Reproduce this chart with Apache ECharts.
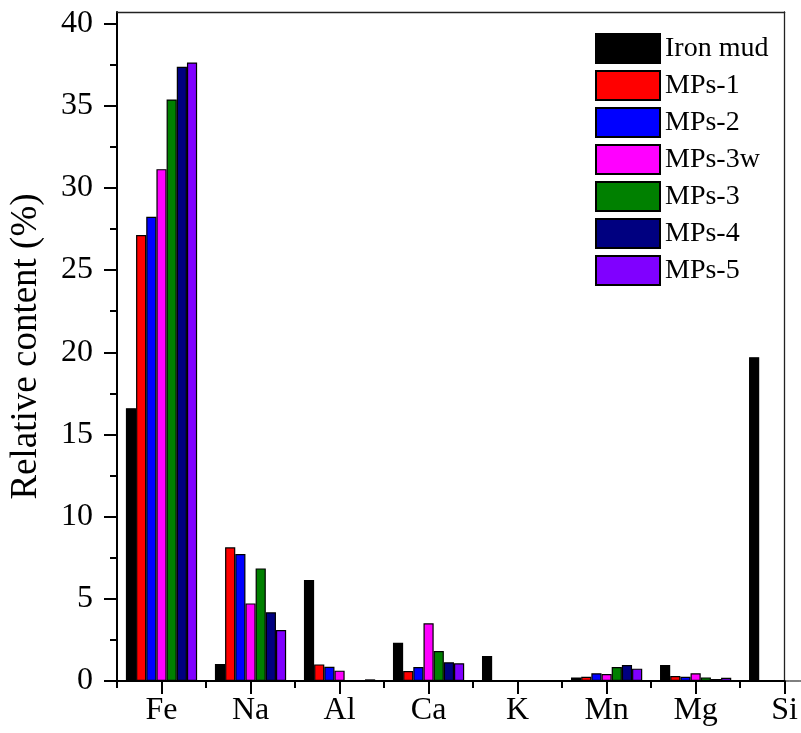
<!DOCTYPE html>
<html>
<head>
<meta charset="utf-8">
<script src="https://cdn.jsdelivr.net/npm/echarts@6/dist/echarts.min.js"></script>
<style>
  html, body { margin: 0; padding: 0; background: #fff; }
  #chart { width: 801px; height: 733px; }
</style>
</head>
<body>
<div id="chart"></div>
<script>
// Elements on the x axis
const elements = ['Fe', 'Na', 'Al', 'Ca', 'K', 'Mn', 'Mg', 'Si'];

// Relative content (%) of each element per sample
const ironMud = [16.6, 1.03, 6.14, 2.33, 1.52, 0.22, 0.97, 19.7];
const mps1    = [27.13, 8.13, 1.01, 0.61, 0, 0.26, 0.30, 0];
const mps2    = [28.24, 7.72, 0.87, 0.85, 0, 0.47, 0.26, 0];
const mps3w   = [31.14, 4.72, 0.63, 3.51, 0.05, 0.43, 0.47, 0];
const mps3    = [35.38, 6.85, 0.05, 1.82, 0, 0.85, 0.22, 0];
const mps4    = [37.37, 4.18, 0.02, 1.14, 0, 0.97, 0.12, 0];
const mps5    = [37.63, 3.10, 0.10, 1.08, 0, 0.75, 0.20, 0];

const seriesNames = ['Iron mud', 'MPs-1', 'MPs-2', 'MPs-3w', 'MPs-3', 'MPs-4', 'MPs-5'];
const seriesValues = [ironMud, mps1, mps2, mps3w, mps3, mps4, mps5];
const seriesColors = ['#000000', '#ff0000', '#0000ff', '#ff00ff', '#008000', '#000080', '#8000ff'];

// Tick values
const yMajorTicks = [0, 5, 10, 15, 20, 25, 30, 35, 40];
const yMinorTicks = [2.5, 7.5, 12.5, 17.5, 22.5, 27.5, 32.5, 37.5];
const xMajorTicks = elements.map((_, i) => i + 1);
const xMinorTicks = elements.map((_, i) => i + 0.5);

const FONT = "'Liberation Serif', 'Times New Roman', serif";
const X_RANGE = { min: 0.5, max: 8 };
const Y_RANGE = { min: 0, max: 40.7 };

const chart = echarts.init(document.getElementById('chart'), null, { renderer: 'canvas' });

const series = seriesNames.map((name, s) => ({
  name: name,
  type: 'bar',
  xAxisIndex: 0,
  yAxisIndex: 0,
  barGap: '0%',
  barCategoryGap: '20%',
  itemStyle: { color: seriesColors[s], borderColor: '#000', borderWidth: 1.2 },
  emphasis: { disabled: true },
  data: seriesValues[s].map((v, i) => [i + 1, v])
}));

// Plain frame line (top / right edges of the plot box)
const frameAxis = (position) => ({
  type: 'value',
  ...(position === 'top' ? X_RANGE : Y_RANGE),
  position: position,
  offset: 0,
  axisLine: { show: true, onZero: false, lineStyle: { color: '#222', width: 1.3 } },
  axisTick: { show: false },
  axisLabel: { show: false },
  splitLine: { show: false }
});

const option = {
  animation: false,
  backgroundColor: '#fff',
  grid: { left: 117, right: 15, top: 12, bottom: 52, show: false },
  legend: {
    orient: 'vertical',
    left: 590,
    top: 28,
    itemWidth: 64,
    itemHeight: 29,
    itemGap: 6,
    icon: 'rect',
    textStyle: { fontFamily: FONT, fontSize: 28, color: '#000' },
    data: seriesNames
  },
  xAxis: [
    {
      type: 'value',
      ...X_RANGE,
      axisLine: { show: true, onZero: false, lineStyle: { color: '#000', width: 2 } },
      axisTick: { show: true, inside: false, length: 13, customValues: xMajorTicks, lineStyle: { color: '#000', width: 2 } },
      axisLabel: {
        customValues: xMajorTicks,
        margin: 14,
        fontFamily: FONT, fontSize: 32, color: '#000',
        formatter: v => elements[Math.round(v) - 1] || ''
      },
      splitLine: { show: false }
    },
    {
      type: 'value',
      ...X_RANGE,
      position: 'bottom',
      offset: 0,
      axisLine: { show: false },
      axisTick: { show: true, inside: false, length: 7, customValues: xMinorTicks, lineStyle: { color: '#000', width: 2 } },
      axisLabel: { show: false },
      splitLine: { show: false }
    },
    frameAxis('top')
  ],
  yAxis: [
    {
      type: 'value',
      ...Y_RANGE,
      name: 'Relative content (%)',
      nameLocation: 'middle',
      nameGap: 72,
      nameTextStyle: { fontFamily: FONT, fontSize: 37, color: '#000' },
      axisLine: { show: true, onZero: false, lineStyle: { color: '#000', width: 2 } },
      axisTick: { show: true, inside: false, length: 13, customValues: yMajorTicks, lineStyle: { color: '#000', width: 2 } },
      axisLabel: {
        customValues: yMajorTicks,
        margin: 24,
        fontFamily: FONT, fontSize: 32, color: '#000'
      },
      splitLine: { show: false }
    },
    {
      type: 'value',
      ...Y_RANGE,
      position: 'left',
      offset: 0,
      axisLine: { show: false },
      axisTick: { show: true, inside: false, length: 7, customValues: yMinorTicks, lineStyle: { color: '#000', width: 2 } },
      axisLabel: { show: false },
      splitLine: { show: false }
    },
    frameAxis('right')
  ],
  series: series
};

chart.setOption(option);
</script>
</body>
</html>
